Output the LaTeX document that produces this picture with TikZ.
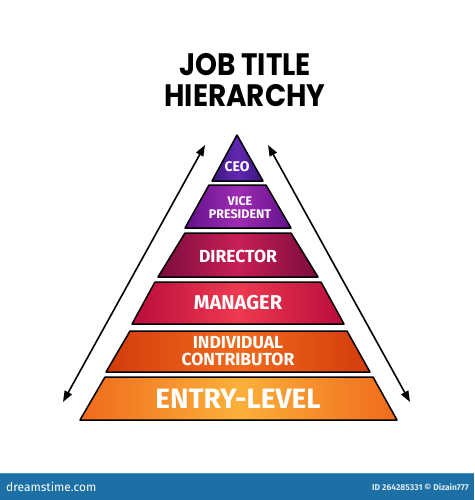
\documentclass[tikz,border=0pt]{standalone}
\usepackage{fontspec}
\setmainfont{Fira Sans}
\newfontfamily\titlefont[FakeStretch=0.9]{Poppins}
\newfontfamily\bandfont{Fira Sans}
\usetikzlibrary{arrows.meta}
\definecolor{footblue}{HTML}{1C70A6}
\definecolor{footline}{HTML}{4A90C0}
\definecolor{ceoE}{HTML}{3A1680}\definecolor{ceoM}{HTML}{6228B0}
\definecolor{vpE}{HTML}{62128A}\definecolor{vpM}{HTML}{9E2CB2}
\definecolor{dirE}{HTML}{7A0C3C}\definecolor{dirM}{HTML}{C81E56}
\definecolor{mgrE}{HTML}{B80C3C}\definecolor{mgrM}{HTML}{EE3A50}
\definecolor{icE}{HTML}{D23C0C}\definecolor{icM}{HTML}{F06A1C}
\definecolor{enE}{HTML}{F06A1C}\definecolor{enM}{HTML}{FBB03A}
\begin{document}
\begin{tikzpicture}[x=1pt,y=-1pt,
  bandline/.style={draw=black,line width=1.5pt,line join=round},
  bandtext/.style={text=white,align=center,inner sep=0pt},
  titletext/.style={font=\titlefont\bfseries\fontsize{31}{31}\selectfont,inner sep=0pt,align=center},
  dblarrow/.style={line width=1.6pt,{Triangle[length=11pt,width=8pt]}-{Triangle[length=11pt,width=8pt]}}]
\useasboundingbox (0,0) rectangle (474,500);
\fill[white] (0,0) rectangle (474,500);
% title
\node[titletext] (title) at (245,80) {JOB TITLE\\HIERARCHY};
% bands
\path[bandline,left color=ceoE,right color=ceoE,middle color=ceoM]
  (237,135) -- (263,181) -- (212,181) -- cycle;
\path[bandline,left color=vpE,right color=vpE,middle color=vpM]
  (209,185) -- (266,185) -- (291,228) -- (185,228) -- cycle;
\path[bandline,left color=dirE,right color=dirE,middle color=dirM]
  (185,233) -- (291,233) -- (318,277) -- (158,277) -- cycle;
\path[bandline,left color=mgrE,right color=mgrE,middle color=mgrM]
  (155,282) -- (321,282) -- (344,324) -- (132,324) -- cycle;
\path[bandline,left color=icE,right color=icE,middle color=icM]
  (130,331) -- (347,331) -- (370,372) -- (106,372) -- cycle;
\path[bandline,left color=enE,right color=enE,middle color=enM]
  (105,377) -- (373,377) -- (397,420) -- (80,420) -- cycle;
% labels
\node[bandtext,font=\bandfont\bfseries\fontsize{14}{15}\selectfont] (ceo) at (237,167) {CEO};
\node[bandtext,font=\bandfont\bfseries\fontsize{12.5}{13}\selectfont] (vp) at (240,208) {VICE\\PRESIDENT};
\node[bandtext,font=\bandfont\bfseries\fontsize{17.5}{18}\selectfont] (dir) at (238,256) {DIRECTOR};
\node[bandtext,font=\bandfont\bfseries\fontsize{20}{21}\selectfont] (mgr) at (238,303) {MANAGER};
\node[bandtext,font=\bandfont\bfseries\fontsize{17.5}{17}\selectfont] (ic) at (238,351) {INDIVIDUAL\\CONTRIBUTOR};
\node[bandtext,font=\bandfont\bfseries\fontsize{28}{29}\selectfont] (en) at (238,399) {ENTRY-LEVEL};
% arrows
\coordinate (lt) at (205,145);
\coordinate (lb) at (63,402);
\coordinate (rt) at (268,145);
\coordinate (rb) at (410,402);
\draw[dblarrow] (lt) -- (lb);
\draw[dblarrow] (rt) -- (rb);
% footer
\fill[footblue] (0,473) rectangle (474,500);
\draw[footline,line width=0.8pt] (0,473.4) -- (474,473.4);
\node[text=white,font=\fontsize{12}{13}\selectfont,anchor=west,inner sep=0pt] (brand) at (6,487) {dreamstime.com};
\node[text=white!85!footblue,font=\bfseries\fontsize{8.5}{9}\selectfont,anchor=east,inner sep=0pt] (id) at (469,487) {ID 264285331 © Dizain777};
\end{tikzpicture}
\end{document}
